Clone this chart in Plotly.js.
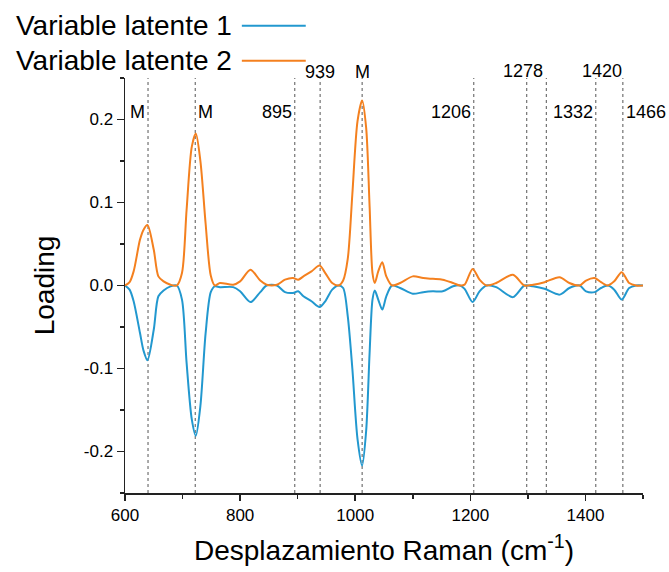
<!DOCTYPE html>
<html>
<head>
<meta charset="utf-8">
<script src="https://cdn.plot.ly/plotly-3.0.1.min.js"></script>
<style>html,body{margin:0;padding:0;background:#fff;}#chart{width:669px;height:572px;}</style>
</head>
<body>
<div id="chart"></div>
<script>
// Raman shift (cm-1)
var wavenumber = [600,608,615,626,632,639,650,658,667,679,690,699,707,716,723,731,740,749,756,765,788,800,818,835,846,864,878,892,901,910,924,938,948,960,971,979,987,995,1004,1012,1019,1025,1030,1034,1040,1047,1054,1064,1078,1100,1118,1135,1152,1170,1182,1190,1204,1216,1228,1245,1274,1294,1309,1329,1355,1372,1390,1401,1416,1427,1439,1450,1463,1476,1488,1500];
// Variable latente 1 (blue)
var latente1 = [0,-0.005,-0.019,-0.057,-0.078,-0.090,-0.053,-0.013,-0.006,-0.001,0,-0.017,-0.093,-0.161,-0.181,-0.145,-0.058,-0.008,-0.001,-0.002,-0.002,-0.007,-0.020,-0.008,0,0,-0.008,-0.009,-0.007,-0.013,-0.019,-0.026,-0.019,-0.005,0,-0.003,-0.037,-0.100,-0.185,-0.217,-0.175,-0.081,-0.017,-0.006,-0.017,-0.029,-0.013,0,-0.003,-0.010,-0.008,-0.007,-0.007,-0.001,0,-0.004,-0.020,-0.007,0,-0.002,-0.014,0,-0.001,-0.004,-0.011,-0.003,0,-0.007,-0.008,-0.003,0,-0.005,-0.017,-0.003,0,0];
// Variable latente 2 (orange)
var latente2 = [0,0.004,0.017,0.055,0.067,0.073,0.043,0.011,0.005,0.001,0,0.015,0.091,0.167,0.183,0.150,0.075,0.012,0,0.003,0.001,0.005,0.019,0.006,0.001,0.001,0.007,0.009,0.007,0.011,0.017,0.024,0.015,0.003,0,0.006,0.032,0.110,0.198,0.223,0.190,0.095,0.015,0.003,0.017,0.028,0.011,0,0.003,0.011,0.009,0.008,0.007,0.003,0,0.001,0.020,0.007,0,0.003,0.013,0,0.001,0.004,0.010,0.003,0,0.006,0.009,0.004,0,0.005,0.016,0.003,0,0];

// marker lines (dotted)
var bandPositions = [640,722,895,939,1012,1206,1298,1332,1418,1465];
// band labels
var bandLabels = ["M","M","895","939","M","1206","1278","1332","1420","1466"];
var labelX = [640,722,895,939,1012,1206,1292,1418,1428,1465];
var labelY = [0.918,0.918,0.918,1.014,1.014,0.918,1.018,0.918,1.018,0.918];
var labelAnchor = ["right","left","right","center","center","right","center","right","center","left"];

var seriesNames = ["Variable latente 1","Variable latente 2"];
var colors = ["#2298cf","#f4801f"];

var traces = [
  {x: wavenumber, y: latente1, type:'scatter', mode:'lines', name: seriesNames[0],
   line:{color:colors[0], width:2, shape:'spline', smoothing:0.8}},
  {x: wavenumber, y: latente2, type:'scatter', mode:'lines', name: seriesNames[1],
   line:{color:colors[1], width:2, shape:'spline', smoothing:0.8}}
];

var shapes = bandPositions.map(function(p){
  return {type:'line', xref:'x', yref:'y', x0:p, x1:p, y0:-0.25, y1:0.25,
          line:{color:'#555', width:1, dash:'dot'}, layer:'below'};
});

var annotations = bandLabels.map(function(t,i){
  return {text:t, x:labelX[i], y:labelY[i], xref:'x', yref:'paper', xanchor:labelAnchor[i],
          yanchor:'middle', showarrow:false, font:{family:'Liberation Sans, Arial', size:18, color:'#000'},
          xshift: labelAnchor[i]==='right' ? -1 : (labelAnchor[i]==='left' ? 1 : 0)};
});

// custom legend: text then line
var legY = [1.126, 1.0417];
seriesNames.forEach(function(n,i){
  annotations.push({text:n, xref:'paper', yref:'paper', x:-0.214, y:legY[i], xanchor:'left', yanchor:'middle',
    showarrow:false, font:{family:'Liberation Sans, Arial', size:28, color:'#000'}});
  shapes.push({type:'line', xref:'paper', yref:'paper', x0:(242-125)/518.7, x1:(306-125)/518.7,
    y0:legY[i], y1:legY[i], line:{color:colors[i], width:2}});
});

var layout = {
  width:669, height:572,
  margin:{l:125, r:26, t:78, b:79},
  paper_bgcolor:'#fff', plot_bgcolor:'#fff',
  showlegend:false,
  font:{family:'Liberation Sans, Arial', color:'#000'},
  xaxis:{range:[600,1500], showline:true, linecolor:'#222', linewidth:1.5, zeroline:false, showgrid:false,
    ticks:'outside', ticklen:6, tickwidth:1.5, tickcolor:'#222', dtick:200, tick0:600,
    minor:{dtick:100, ticks:'outside', ticklen:4, tickwidth:1.5, tickcolor:'#222', showgrid:false},
    tickfont:{size:17, family:'Liberation Sans, Arial'},
    title:{text:'Desplazamiento Raman (cm<sup>-1</sup>)', font:{size:28, family:'Liberation Sans, Arial'}, standoff:16}},
  yaxis:{range:[-0.25,0.25], showline:true, linecolor:'#222', linewidth:1.5, zeroline:false, showgrid:false,
    ticks:'outside', ticklen:7, tickwidth:1.5, tickcolor:'#222',
    tickmode:'array', tickvals:[-0.2,-0.1,0,0.1,0.2], ticktext:['-0.2','-0.1','0.0','0.1','0.2'],
    minor:{tickmode:'linear', tick0:0, dtick:0.05, ticks:'outside', ticklen:4, tickwidth:1.5, tickcolor:'#222', showgrid:false},
    tickfont:{size:17, family:'Liberation Sans, Arial'},
    title:{text:'Loading', font:{size:28, family:'Liberation Sans, Arial'}, standoff:21}},
  shapes:shapes,
  annotations:annotations
};

Plotly.newPlot('chart', traces, layout, {displayModeBar:false, staticPlot:true});
</script>
</body>
</html>
